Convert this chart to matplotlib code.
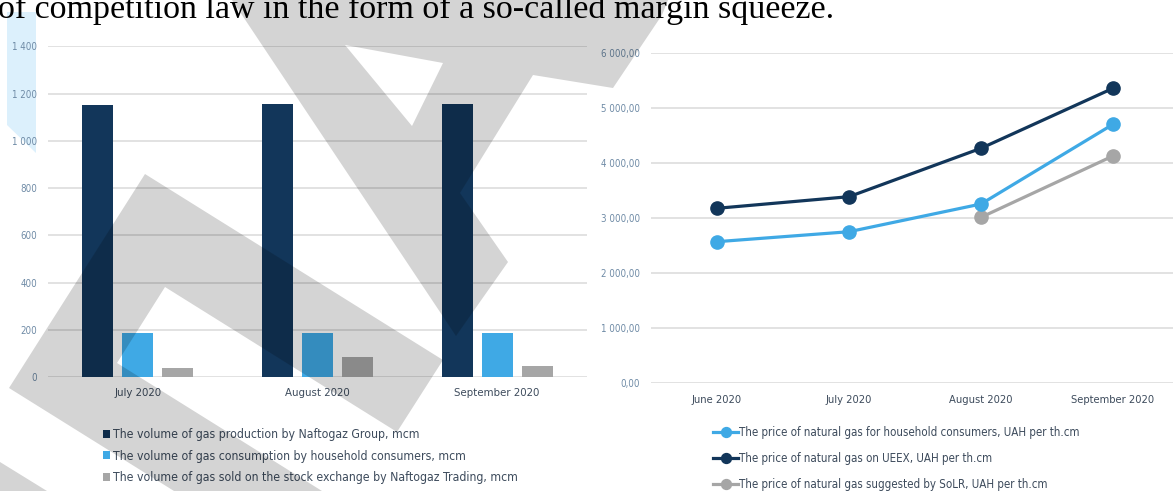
import matplotlib
matplotlib.use("Agg")
import matplotlib.pyplot as plt
import matplotlib.font_manager as fm
import numpy as np
from matplotlib.patches import Polygon, PathPatch
from matplotlib.path import Path

# the original uses a condensed DIN-like face; take any narrow font that is installed
narrow = [f for f in fm.fontManager.ttflist
          if ('Narrow' in f.fname or 'Condensed' in f.fname)
          and not any(k in f.fname for k in ('Bold', 'Oblique', 'Italic', 'Light', 'Thin', 'Medium', 'Black', 'Semi', 'Extra'))]
narrow.sort(key=lambda f: (0 if 'DejaVu' in f.fname else 1 if 'Liberation' in f.fname else 2))
if narrow:
    plt.rcParams['font.family'] = [narrow[0].name, 'DejaVu Sans']
    plt.rcParams['font.stretch'] = narrow[0].stretch
else:
    plt.rcParams['font.family'] = ['DejaVu Sans']

# ---- data: left chart (volumes, mcm) ----
months_left = ["July 2020", "August 2020", "September 2020"]
production = [1151, 1156, 1157]
household = [186, 186, 186]
stock_exchange = [38, 87, 48]
left_labels = [
    "The volume of gas production by Naftogaz Group, mcm",
    "The volume of gas consumption by household consumers, mcm",
    "The volume of gas sold on the stock exchange by Naftogaz Trading, mcm",
]
left_yticks = [0, 200, 400, 600, 800, 1000, 1200, 1400]

# ---- data: right chart (prices, UAH per th.cm) ----
months_right = ["June 2020", "July 2020", "August 2020", "September 2020"]
price_household = [2564, 2745, 3249, 4698]
price_ueex = [3171, 3382, 4262, 5353]
solr_months = ["August 2020", "September 2020"]
price_solr = [3007, 4122]
right_labels = [
    "The price of natural gas for household consumers, UAH per th.cm",
    "The price of natural gas on UEEX, UAH per th.cm",
    "The price of natural gas suggested by SoLR, UAH per th.cm",
]
right_yticks = [0, 1000, 2000, 3000, 4000, 5000, 6000]

NAVY = '#12365a'
LIGHT = '#3fa9e5'
GREY = '#a6a6a6'
TICK_C = '#6f8ba6'
TEXT_C = '#3d4b5c'
GRID_C = '#e2e2e2'

W, H = 1173, 491
fig = plt.figure(figsize=(W / 100, H / 100), dpi=100)


def px_box(x0, x1, y_top, y_bot):
    return [x0 / W, 1 - y_bot / H, (x1 - x0) / W, (y_bot - y_top) / H]


def fmt_space(v, dec=False):
    s = f"{v:,.2f}" if dec else f"{v:,.0f}"
    s = s.replace(",", " ")
    if dec:
        s = s.replace(".", ",")
    return s


# header line from the page above the charts (cut at the top, as in the scan)
fig.text(-0.002, 1 - 18 / H, "of competition law in the form of a so-called margin squeeze.",
         family='Liberation Serif', fontsize=24.5, color='black', va='baseline')

# light blue decoration on the left edge
fig.add_artist(Polygon([(7 / W, 1 - 12 / H), (36 / W, 1 - 12 / H), (36 / W, 1 - 153 / H), (7 / W, 1 - 125 / H)],
                       closed=True, transform=fig.transFigure, facecolor='#dcf0fc', edgecolor='none', zorder=0))

# ---- left chart ----
ax1 = fig.add_axes(px_box(48, 587, 46.3, 377.3))
x = np.arange(len(months_left))
bw = 0.172
off = 0.222
ax1.bar(x - off, production, bw, color=NAVY, label=left_labels[0], zorder=3)
ax1.bar(x, household, bw, color=LIGHT, label=left_labels[1], zorder=3)
ax1.bar(x + off, stock_exchange, bw, color=GREY, label=left_labels[2], zorder=3)
ax1.set_xlim(-0.5, 2.5)
ax1.set_ylim(0, 1400)
ax1.set_yticks(left_yticks)
ax1.set_yticklabels([fmt_space(v) for v in left_yticks])
ax1.set_xticks(x)
ax1.set_xticklabels(months_left)
ax1.yaxis.grid(True, color=GRID_C, linewidth=1.4, zorder=0)
ax1.set_axisbelow(True)
for s in ax1.spines.values():
    s.set_visible(False)
ax1.tick_params(axis='both', length=0)
ax1.tick_params(axis='y', labelsize=7, labelcolor=TICK_C, pad=8)
ax1.tick_params(axis='x', labelsize=8.2, labelcolor=TEXT_C, pad=8)
ax1.legend(loc='upper left', bbox_to_anchor=(103 / W, 1 - 428 / H), bbox_transform=fig.transFigure,
           frameon=False, fontsize=8.8, labelcolor=TEXT_C, handlelength=0.6, handleheight=0.6,
           handletextpad=0.25, labelspacing=0.7, borderpad=0, borderaxespad=0)

# ---- right chart ----
ax2 = fig.add_axes(px_box(651, 1179, 52.7, 382.7))
xr = np.arange(len(months_right))
xs = [months_right.index(m) for m in solr_months]
ax2.plot(xr, price_household, color=LIGHT, lw=2.3, marker='o', ms=9.5, label=right_labels[0], zorder=3)
ax2.plot(xr, price_ueex, color=NAVY, lw=2.3, marker='o', ms=9.5, label=right_labels[1], zorder=4)
ax2.plot(xs, price_solr, color=GREY, lw=2.3, marker='o', ms=9.5, label=right_labels[2], zorder=2)
ax2.set_xlim(-0.5, 3.5)
ax2.set_ylim(0, 6000)
ax2.set_yticks(right_yticks)
ax2.set_yticklabels([fmt_space(v, dec=True) for v in right_yticks])
ax2.set_xticks(xr)
ax2.set_xticklabels(months_right)
ax2.yaxis.grid(True, color=GRID_C, linewidth=1.4, zorder=0)
ax2.set_axisbelow(True)
for s in ax2.spines.values():
    s.set_visible(False)
ax2.tick_params(axis='both', length=0)
ax2.tick_params(axis='y', labelsize=7, labelcolor=TICK_C, pad=8)
ax2.tick_params(axis='x', labelsize=8.0, labelcolor=TEXT_C, pad=9)
ax2.legend(loc='upper left', bbox_to_anchor=(713 / W, 1 - 426 / H), bbox_transform=fig.transFigure,
           frameon=False, fontsize=8.3, labelcolor=TEXT_C, handlelength=2.2, handletextpad=0.05,
           labelspacing=1.12, borderpad=0, borderaxespad=0, markerscale=0.75)

# ---- grey watermark overlay (scan artefact), pixel coordinates ----
def to_fig(pts):
    return [(px / W, 1 - py / H) for px, py in pts]


wm = dict(transform=fig.transFigure, facecolor='black', alpha=0.17, edgecolor='none', zorder=20)
outer_a = to_fig([(232, 0), (668, 0), (662, 15), (613, 88), (533, 75), (460, 193), (508, 262), (456, 336)])
hole_a = to_fig([(345, 45), (412, 126), (443, 63)])
verts = outer_a + [outer_a[0]] + hole_a + [hole_a[0]]
codes = ([Path.MOVETO] + [Path.LINETO] * (len(outer_a) - 1) + [Path.CLOSEPOLY]
         + [Path.MOVETO] + [Path.LINETO] * (len(hole_a) - 1) + [Path.CLOSEPOLY])
fig.add_artist(PathPatch(Path(verts, codes), **wm))
fig.add_artist(Polygon(to_fig([(145, 174), (443, 360), (397, 432), (165, 287), (117, 363),
                               (322, 491), (174, 491), (9, 388)]), closed=True, **wm))
fig.add_artist(Polygon(to_fig([(0, 462), (47, 491), (0, 491)]), closed=True, **wm))

fig.savefig("out.png", dpi=100)
